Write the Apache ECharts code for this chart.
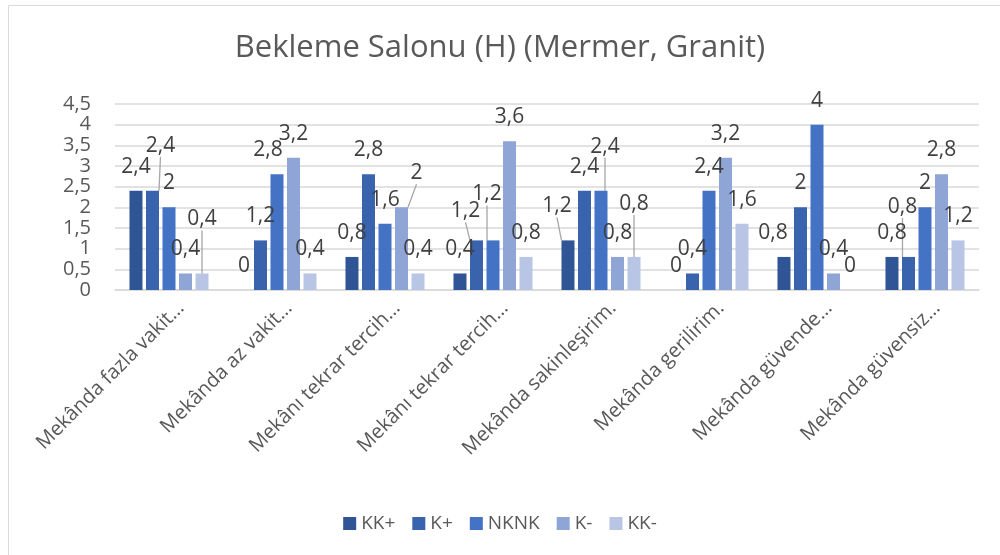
<!DOCTYPE html>
<html>
<head>
<meta charset="utf-8">
<script src="https://cdn.jsdelivr.net/npm/echarts@6/dist/echarts.min.js"></script>
<style>
  html, body { margin: 0; padding: 0; background: #ffffff; }
  #chart { width: 1000px; height: 555px; }
</style>
</head>
<body>
<div id="chart"></div>
<script>
// Survey answers for the waiting hall (marble, granite floor)
const categories = [
  'Mekânda fazla vakit…',
  'Mekânda az vakit…',
  'Mekânı tekrar tercih…',
  'Mekânı tekrar tercih…',
  'Mekânda sakinleşirim.',
  'Mekânda gerilirim.',
  'Mekânda güvende…',
  'Mekânda güvensiz…'
];
const seriesNames = ['KK+', 'K+', 'NKNK', 'K-', 'KK-'];
const valKKplus  = [2.4, 0,   0.8, 0.4, 1.2, 0,   0.8, 0.8];
const valKplus   = [2.4, 1.2, 2.8, 1.2, 2.4, 0.4, 2,   0.8];
const valNKNK    = [2,   2.8, 1.6, 1.2, 2.4, 2.4, 4,   2];
const valKminus  = [0.4, 3.2, 2,   3.6, 0.8, 3.2, 0.4, 2.8];
const valKKminus = [0.4, 0.4, 0.4, 0.8, 0.8, 1.6, 0,   1.2];
const yTicks = { min: 0, max: 4.5, interval: 0.5 };

const seriesValues = [valKKplus, valKplus, valNKNK, valKminus, valKKminus];
const colors = ['#2F5597', '#3A63AD', '#4472C4', '#8FA5D6', '#B9C5E4'];

// Labels nudged away from their neighbours: key "series,category" -> [dx, dy]
const labelNudges = {
  '1,0': [8, -21], '4,0': [0, -30],
  '2,1': [-9, 0],
  '3,2': [15, -10],
  '1,3': [-11, -5], '2,3': [-6, -22],
  '0,4': [-11, -10], '2,4': [4, -20], '4,4': [0, -29],
  '0,6': [-11, 0],
  '1,7': [-6, -26]
};

const fmt = v => String(v).replace('.', ',');
const FONT = 'Open Sans';

const series = seriesNames.map((name, si) => ({
  name: name,
  type: 'bar',
  barWidth: 13,
  barGap: '27%',
  itemStyle: { color: colors[si] },
  data: seriesValues[si].map((v, ci) => {
    const n = labelNudges[si + ',' + ci];
    return { value: v, labelLine: { show: !!n && n[1] !== 0 } };
  }),
  label: {
    show: true,
    position: 'top',
    distance: 13,
    fontFamily: FONT,
    fontSize: 21,
    lineHeight: 22,
    color: '#404040',
    formatter: p => fmt(p.value)
  },
  labelLine: {
    lineStyle: { color: '#a6a6a6', width: 1.3 }
  },
  labelLayout: function (params) {
    const n = labelNudges[params.seriesIndex + ',' + params.dataIndex];
    return n ? { dx: n[0], dy: n[1] } : {};
  }
}));

const chart = echarts.init(document.getElementById('chart'), null, { renderer: 'canvas' });
chart.setOption({
  backgroundColor: '#ffffff',
  animation: false,
  color: colors,
  title: {
    text: 'Bekleme Salonu (H) (Mermer, Granit)',
    left: 'center',
    top: 28,
    textStyle: { fontFamily: FONT, fontSize: 31, fontWeight: 'normal', color: '#595959' }
  },
  legend: {
    top: 509,
    left: 'center',
    itemWidth: 13,
    itemHeight: 13,
    itemGap: 17,
    icon: 'rect',
    textStyle: { fontFamily: FONT, fontSize: 19, color: '#595959' },
    data: seriesNames
  },
  grid: { left: 115, right: 21, top: 104, bottom: 265, containLabel: false },
  xAxis: {
    type: 'category',
    data: categories,
    axisLine: { lineStyle: { color: '#d9d9d9', width: 1.5 } },
    axisTick: { show: false },
    axisLabel: {
      rotate: 45,
      interval: 0,
      margin: 27,
      padding: [0, -17, 0, 0],
      fontFamily: FONT,
      fontSize: 20,
      color: '#595959'
    }
  },
  yAxis: {
    type: 'value',
    min: yTicks.min,
    max: yTicks.max,
    interval: yTicks.interval,
    axisLine: { show: false },
    axisTick: { show: false },
    splitLine: { lineStyle: { color: '#d9d9d9', width: 1.5 } },
    axisLabel: {
      margin: 24,
      fontFamily: FONT,
      fontSize: 20,
      color: '#595959',
      formatter: v => fmt(v)
    }
  },
  graphic: [{
    type: 'rect',
    silent: true,
    shape: { x: 8.5, y: 5.5, width: 1000, height: 560 },
    style: { fill: 'none', stroke: '#d9d9d9', lineWidth: 1 }
  }],
  series: series
});
</script>
</body>
</html>
